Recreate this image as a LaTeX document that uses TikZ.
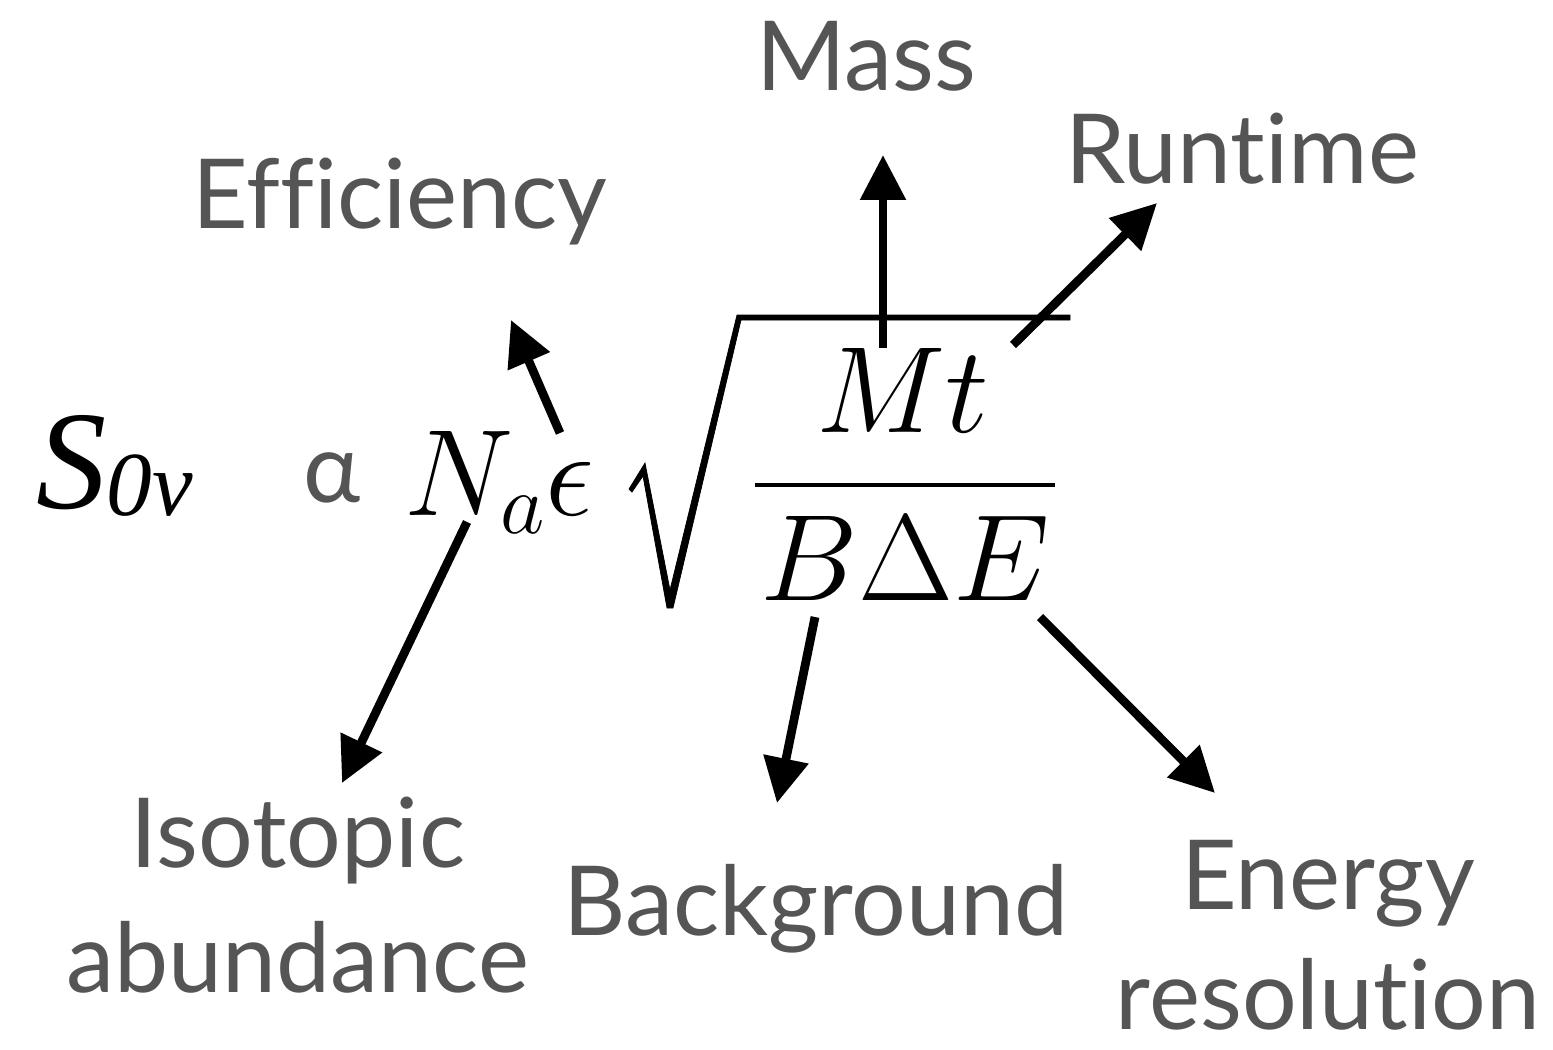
\documentclass[tikz,border=0pt]{standalone}
\usepackage{fix-cm}
\usepackage{fontspec}
\setmainfont{Lato}[Ligatures=NoCommon]
\newfontfamily\timesfont{Liberation Serif}
\usetikzlibrary{arrows.meta}

\definecolor{labelgray}{HTML}{555555}
\tikzset{
  lbl/.style={text=labelgray, font=\fontsize{55}{71}\selectfont, align=center, anchor=base, inner sep=0pt},
  eqn/.style={font=\fontsize{70}{80}\selectfont, anchor=base, inner sep=0pt},
  bigarrow/.style={line width=0.175cm, -{Triangle[length=0.9cm,width=0.88cm]}},
}

\begin{document}
\begin{tikzpicture}[x=0.02cm, y=-0.02cm]
    \useasboundingbox (0,0) rectangle (1553,1049);

    % Sensitivity formula
    \node[eqn, anchor=base west] (signal) at (36,508)
        {\fontsize{80}{80}\selectfont\timesfont\itshape S\raisebox{-0.14cm}{\fontsize{52}{52}\selectfont 0v}};
    \node[lbl, anchor=base west] (propto) at (303,502) {α};
    \node[eqn, anchor=base west] (Na) at (404,515) {$N_a\epsilon$};
    \filldraw (629,489) -- (645,463) -- (670,590) -- (737,315) -- (1070,315)
        -- (1070,320) -- (741,320) -- (673,608) -- (667,608) -- (643,476) -- (632,492) -- cycle;
    \node[eqn] (Mt) at (903,432) {$Mt$};
    \draw[line width=0.08cm] (755,485) -- (1055,485);
    \node[eqn] (BdE) at (905,600) {$B\Delta E$};

    % Labels
    \node[lbl] (mass) at (866,90) {Mass};
    \node[lbl] (runtime) at (1242,183) {Runtime};
    \node[lbl] (efficiency) at (400,228) {Efficiency};
    \node[lbl] (isotopic) at (298,992) {Isotopic\\abundance};
    \node[lbl] (background) at (816,935) {Background};
    \node[lbl, font=\fontsize{55}{68}\selectfont] (energy) at (1328,1029) {Energy\\resolution};

    % Arrow ends
    \coordinate (mass-from) at (883,348);
    \coordinate (mass-to) at (883,155);
    \coordinate (runtime-from) at (1013,345);
    \coordinate (runtime-to) at (1157,203);
    \coordinate (eff-from) at (560,433);
    \coordinate (eff-to) at (511,320);
    \coordinate (iso-from) at (467,522);
    \coordinate (iso-to) at (342,783);
    \coordinate (bkg-from) at (815,617);
    \coordinate (bkg-to) at (777,803);
    \coordinate (res-from) at (1040,617);
    \coordinate (res-to) at (1215,793);

    % Arrows
    \draw[bigarrow] (mass-from) -- (mass-to);
    \draw[bigarrow] (runtime-from) -- (runtime-to);
    \draw[bigarrow] (eff-from) -- (eff-to);
    \draw[bigarrow] (iso-from) -- (iso-to);
    \draw[bigarrow] (bkg-from) -- (bkg-to);
    \draw[bigarrow] (res-from) -- (res-to);
\end{tikzpicture}
\end{document}
